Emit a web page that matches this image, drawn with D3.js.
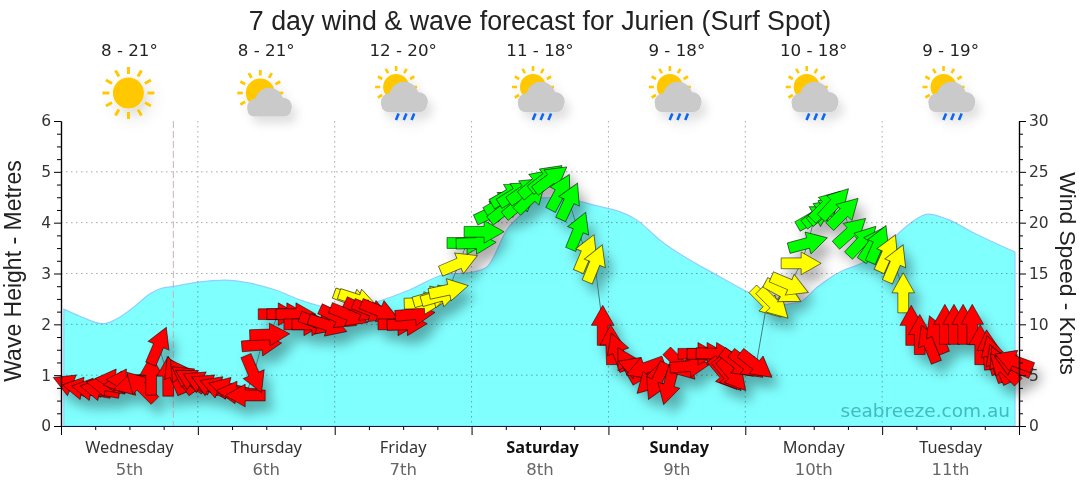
<!DOCTYPE html>
<html><head><meta charset="utf-8">
<script src="https://cdn.jsdelivr.net/npm/d3@7"></script>
<style>
html,body{margin:0;padding:0;background:#fff}
svg{display:block}
text{font-family:"DejaVu Sans",sans-serif}
</style></head><body>
<svg id="c" width="1080" height="490"></svg>
<script>
const titleText = "7 day wind & wave forecast for Jurien (Surf Spot)";
const days = ["Wednesday","Thursday","Friday","Saturday","Sunday","Monday","Tuesday"];
const dates = ["5th","6th","7th","8th","9th","10th","11th"];
const weekendDays = ["Saturday","Sunday"];
const temps = ["8 - 21°","8 - 21°","12 - 20°","11 - 18°","9 - 18°","10 - 18°","9 - 19°"];
const icons = ["sun","partly","rain","rain","rain","rain","rain"];
const nowHour = 19.7;
const waveHours = [0.5,3.3,7.4,10.3,13,15.6,17.4,20,24,28.8,33.1,37.5,41.9,45.4,50.7,55.4,61.2,67,72.2,74.7,78.2,81.7,84.5,87.5,93.3,101,105,115.6,120.3,125.2,129.6,132.6,136.6,140.6,144.2,146.6,149.2,152,155.4,160,167.3];
const waveMetres = [2.30,2.16,2.01,2.14,2.36,2.60,2.70,2.75,2.83,2.87,2.81,2.68,2.48,2.36,2.28,2.44,2.68,2.97,3.03,3.13,3.86,4.25,4.49,4.49,4.35,4.05,3.66,2.93,2.64,2.38,2.44,2.73,3.03,3.21,3.46,3.76,4.01,4.17,4.07,3.80,3.42];
const windHours = [1.9,3.7,5.3,6.8,7.9,9.5,10.9,11.4,12.6,14,15.8,17.1,18.8,20,21.2,22.3,23.1,24.6,26.1,27.7,29.3,30.7,32.3,33.8,
 35.2,36.6,38.1,39.6,41.2,42.6,44,45.2,46.8,48.6,50.5,51.2,52.1,53,54.5,55.9,59.1,60.7,62.1,63.7,65.2,66.6,68,69.8,
 71.2,72.8,74.2,75.9,77.5,78,78.6,79.8,80.5,81.4,82.4,83.3,85.1,85.9,87.5,89.1,90.7,92.1,93.6,95,
 96.5,97.7,99.4,101,102.4,103.5,104.5,106.6,108.7,110.3,111.7,113.3,114.9,116.3,117,117.8,118.7,120.3,121.9,
 123.8,125,126.6,127.8,129.8,131,132.2,133.1,134,134.2,135.7,137.3,138.5,140.5,142.4,143.3,144.9,146.3,147.7,
 149.1,150.6,152.2,153.6,155,156.6,158.2,159.8,161.2,162.6,163.3,164.1,164.7,165.4,166.9,167.1];
const windKnots = [4,3.7,3.6,3.6,4,4.5,4.3,4.5,4.1,3.9,5,7.9,4.9,5,4.9,4.7,4.5,4.3,4,3.8,3.7,3.3,3,5.1,
 8,9,11,11,11,10,10,10.1,9.9,10.7,10.9,12.4,12.4,11.4,11.3,11.3,10,10,11,12.1,12.7,12.8,13.4,16,
 18,18,19.1,21.1,22,21.4,22.8,22.9,21.9,23.2,22.5,23.9,24.4,24.3,23,22.1,19.2,17,16,9.9,
 8,7.3,6,5.7,5.7,4.6,4.4,4,6,5.9,7.1,7.1,7.1,5.1,5,5,6.1,6,6,
 12.1,12,13.2,13.9,16,18,20.6,21,21.3,21.7,21.9,21,19.1,18.2,17.9,17.9,17,16,13.1,
 9.9,9,8.1,9,10,10,10,10,8,7.5,7,6.2,6,5.7,6,6.4];
const windDirs = [293,280,280,280,280,275,262,272,255,315,0,23,0,337,325,305,300,295,295,290,285,275,270,157,
 85,88,90,90,90,90,90,110,108,115,112,110,108,115,112,112,90,88,85,88,74,74,78,67,
 90,88,90,65,60,52,60,58,50,55,45,50,52,53,28,25,22,23,22,0,
 358,340,330,290,250,225,205,195,135,85,90,90,92,140,140,140,128,128,128,
 135,135,118,113,90,75,60,52,50,45,43,45,48,43,34,23,24,23,0,
 0,0,338,338,0,0,0,0,0,355,345,340,335,315,295,290];
const speedBreaks = [11.7,17.5];
const speedColours = ["#ff0000","#ffff00","#00ff00"];

const svg = d3.select("#c");
const x = d3.scaleLinear().domain([0,168]).range([61,1019]);
const yWave = d3.scaleLinear().domain([0,6]).range([426,121]);
const yWind = d3.scaleLinear().domain([0,30]).range([426,121]);
const colour = d3.scaleThreshold().domain(speedBreaks).range(speedColours);

const defs = svg.append("defs");
const f = defs.append("filter").attr("id","sh").attr("x","-20%").attr("y","-30%").attr("width","140%").attr("height","170%");
f.append("feDropShadow").attr("dx",7).attr("dy",10).attr("stdDeviation",6).attr("flood-color","#000").attr("flood-opacity",.32);
const f2 = defs.append("filter").attr("id","ish").attr("x","-30%").attr("y","-30%").attr("width","170%").attr("height","170%");
f2.append("feDropShadow").attr("dx",5).attr("dy",7).attr("stdDeviation",5).attr("flood-color","#000").attr("flood-opacity",.12);

// wave area
const area = d3.area().x((d,i)=>x(waveHours[i])).y0(yWave(0)).y1(d=>yWave(d)).curve(d3.curveMonotoneX);
svg.append("path").datum(waveMetres).attr("d",area).attr("fill","#80ffff").attr("stroke","#8fd0ff").attr("stroke-width",1.2);

// grid
const gridG = svg.append("g").style("mix-blend-mode","multiply").attr("stroke","#a8a8a8").attr("stroke-dasharray","1.5 3.5");
gridG.selectAll("line.h").data([1,2,3,4,5]).join("line").attr("x1",x(0)).attr("x2",x(168)).attr("y1",d=>yWave(d)).attr("y2",d=>yWave(d));
gridG.selectAll("line.v").data(d3.range(24,168,24)).join("line").attr("y1",yWave(6)).attr("y2",yWave(0)).attr("x1",d=>x(d)).attr("x2",d=>x(d));

// now line
svg.append("line").attr("x1",x(nowHour)).attr("x2",x(nowHour)).attr("y1",yWave(6)).attr("y2",yWave(0))
 .attr("stroke","#c4b4b8").attr("stroke-dasharray","7 3").attr("stroke-width",1);

// wind line + arrows
const arrowG = svg.append("g").attr("filter","url(#sh)");
const line = d3.line().x((d,i)=>x(windHours[i])).y(d=>yWind(d));
arrowG.append("path").datum(windKnots).attr("d",line).attr("fill","none").attr("stroke","#2f5f66").attr("stroke-width",1).attr("stroke-opacity",.8);
const arrowShape = d3.line()([[0,-20],[11.3,0],[5.4,0],[5.4,20],[-5.4,20],[-5.4,0],[-11.3,0]])+"Z";
arrowG.selectAll("path.arrow").data(windKnots).join("path").attr("class","arrow")
 .attr("d",arrowShape)
 .attr("transform",(d,i)=>`translate(${x(windHours[i])},${yWind(d)}) rotate(${windDirs[i]})`)
 .attr("fill",d=>colour(d)).attr("stroke","#000").attr("stroke-opacity",.6).attr("stroke-width",.9);

// axes
function styleAxis(g,col){g.selectAll("path.domain").attr("stroke",col).attr("stroke-width",1.2);g.selectAll("line").attr("stroke",col);g.selectAll("text").attr("fill","#333").style("font-size","15.5px");}
const gl = svg.append("g").attr("transform",`translate(${x(0)},0)`);
gl.call(d3.axisLeft(yWave).tickValues(d3.range(0,6.01,.25).filter(v=>v%1)).tickSize(4).tickSizeOuter(0).tickFormat(""));
gl.append("g").call(d3.axisLeft(yWave).tickValues(d3.range(0,7)).tickSize(7).tickSizeOuter(0).tickPadding(3).tickFormat(d3.format("d")));
styleAxis(gl,"#000");
const gr = svg.append("g").attr("transform",`translate(${x(168)},0)`);
gr.call(d3.axisRight(yWind).tickValues(d3.range(0,30.01,1.25).filter(v=>v%5)).tickSize(4).tickSizeOuter(0).tickFormat(""));
gr.append("g").call(d3.axisRight(yWind).tickValues(d3.range(0,31,5)).tickSize(7).tickSizeOuter(0).tickPadding(3).tickFormat(d3.format("d")));
styleAxis(gr,"#000");
const gb = svg.append("g").attr("transform",`translate(0,${yWave(0)})`);
gb.call(d3.axisBottom(x).tickValues(d3.range(6,168,6).filter(v=>v%24)).tickSize(4).tickSizeOuter(0).tickFormat(""));
gb.append("g").call(d3.axisBottom(x).tickValues(d3.range(0,169,24)).tickSize(9).tickSizeOuter(0).tickFormat(""));
styleAxis(gb,"#0a1440");
gb.selectAll("g.tick line").attr("stroke","#000");

// day labels
const mid = i=>x(12+24*i);
svg.selectAll("text.day").data(days).join("text").attr("class","day")
 .attr("x",(d,i)=>mid(i)+(weekendDays.includes(d)?2.5:0)).attr("y",453)
 .attr("text-anchor","middle").style("font-family","'Noto Sans',sans-serif").style("font-size","16.3px").style("font-weight",d=>weekendDays.includes(d)?"bold":"normal")
 .attr("fill",d=>weekendDays.includes(d)?"#111":"#333").text(d=>d);
svg.selectAll("text.date").data(dates).join("text").attr("class","date").attr("x",(d,i)=>mid(i)).attr("y",475)
 .attr("text-anchor","middle").attr("fill","#666").style("font-size","16.5px").text(d=>d);

// temps
svg.selectAll("text.temp").data(temps).join("text").attr("class","temp").attr("x",(d,i)=>mid(i)).attr("y",56)
 .attr("text-anchor","middle").attr("fill","#222").style("font-size","16.7px").text(d=>d);

// title
svg.append("text").attr("x",540).attr("y",30).attr("text-anchor","middle").style("font-family","'Liberation Sans',Arial,sans-serif").style("font-size","26.8px").attr("fill","#222").text(titleText);
svg.append("text").attr("transform","translate(21,271) rotate(-90)").attr("text-anchor","middle").style("font-family","'Liberation Sans',Arial,sans-serif").style("font-size","23px").attr("fill","#222").text("Wave Height - Metres");
svg.append("text").attr("transform","translate(1060,273.5) rotate(90)").attr("text-anchor","middle").style("font-family","'Liberation Sans',Arial,sans-serif").style("font-size","22.8px").attr("fill","#222").text("Wind Speed - Knots");
svg.append("text").attr("x",1010).attr("y",417).attr("text-anchor","end").attr("fill","#45b9c0").style("font-size","18.5px").text("seabreeze.com.au");

// weather icons
function sun(g,cx,cy,r,r1,r2,w){
  g.selectAll(null).data(d3.range(12)).join("line")
   .attr("x1",d=>cx+r1*Math.sin(d*Math.PI/6)).attr("y1",d=>cy-r1*Math.cos(d*Math.PI/6))
   .attr("x2",d=>cx+r2*Math.sin(d*Math.PI/6)).attr("y2",d=>cy-r2*Math.cos(d*Math.PI/6))
   .attr("stroke","#ffc800").attr("stroke-width",w);
  g.append("circle").attr("cx",cx).attr("cy",cy).attr("r",r).attr("fill","#ffc800");
}
function cloud(g,cx,bottom,s){
  const c = g.append("g").attr("fill","#cacaca");
  c.append("rect").attr("x",cx-21*s).attr("y",bottom-13*s).attr("width",42*s).attr("height",13*s).attr("rx",6*s);
  c.append("circle").attr("cx",cx-13*s).attr("cy",bottom-9*s).attr("r",8.5*s);
  c.append("circle").attr("cx",cx+13*s).attr("cy",bottom-9.5*s).attr("r",9*s);
  c.append("circle").attr("cx",cx).attr("cy",bottom-14.5*s).attr("r",13.5*s);
}
icons.forEach((t,i)=>{
  const g = svg.append("g").attr("filter","url(#ish)");
  const m = mid(i)-1;
  if(t==="sun"){ sun(g,m,93,15.5,19,26,3); }
  if(t==="partly"){ sun(g,m-5,93,14.5,17.5,23,2.8); cloud(g,m+4,116.5,1.03); }
  if(t==="rain"){
    sun(g,m-6,87,13,16,21,2.6); cloud(g,m+2,112,1.08);
    g.selectAll(null).data([0,1,2]).join("line")
     .attr("x1",d=>m-5+d*7.8+1.5).attr("x2",d=>m-5+d*7.8-1.2).attr("y1",113.5).attr("y2",120)
     .attr("stroke","#0a66f0").attr("stroke-width",2.6);
  }
});
</script>
</body></html>
